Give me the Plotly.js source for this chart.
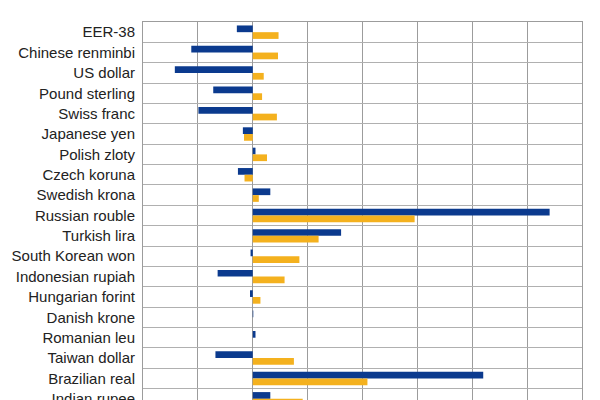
<!DOCTYPE html>
<html>
<head>
<meta charset="utf-8">
<script src="https://cdn.plot.ly/plotly-3.0.1.min.js"></script>
<style>
  html, body { margin: 0; padding: 0; overflow: hidden; background: #fff; }
  #chart { width: 600px; height: 420px; }
</style>
</head>
<body>
<div id="chart"></div>
<script>
// currencies, top to bottom
var currencies = ['EER-38', 'Chinese renminbi', 'US dollar', 'Pound sterling', 'Swiss franc',
    'Japanese yen', 'Polish zloty', 'Czech koruna', 'Swedish krona', 'Russian rouble',
    'Turkish lira', 'South Korean won', 'Indonesian rupiah', 'Hungarian forint',
    'Danish krone', 'Romanian leu', 'Taiwan dollar', 'Brazilian real', 'Indian rupee'];

// blue series (upper bar in each row)
var blueValues = [-0.29, -1.12, -1.42, -0.72, -0.99, -0.18, 0.05, -0.27, 0.32, 5.41,
    1.61, -0.04, -0.64, -0.05, 0.01, 0.05, -0.68, 4.20, 0.32];

// yellow series (lower bar in each row)
var yellowValues = [0.47, 0.46, 0.20, 0.17, 0.44, -0.16, 0.26, -0.15, 0.11, 2.95,
    1.20, 0.85, 0.58, 0.14, 0.0, 0.0, 0.75, 2.09, 0.91];

var data = [];

data.push({
    type: 'bar',
    orientation: 'h',
    y: currencies,
    x: blueValues,
    name: 'blue',
    marker: { color: '#0b3a8e' },
    hoverinfo: 'x+y'
});

data.push({
    type: 'bar',
    orientation: 'h',
    y: currencies,
    x: yellowValues,
    name: 'yellow',
    marker: { color: '#f4b11e' },
    hoverinfo: 'x+y'
});

var layout = {
    width: 600,
    height: 420,
    margin: { l: 143, r: 18, t: 22, b: 11 },
    paper_bgcolor: '#fff',
    plot_bgcolor: '#fff',
    showlegend: false,
    barmode: 'group',
    bargap: 0.34,
    bargroupgap: 0,
    font: { family: 'Liberation Sans, Arial, sans-serif', size: 15, color: '#222' },
    xaxis: {
        range: [-2, 6],
        dtick: 1,
        showticklabels: false,
        ticks: '',
        showgrid: true,
        gridcolor: '#9c9c9c',
        gridwidth: 1,
        zeroline: true,
        zerolinecolor: '#9c9c9c',
        zerolinewidth: 1,
        showline: true,
        linecolor: '#9c9c9c',
        mirror: true
    },
    yaxis: {
        type: 'category',
        autorange: 'reversed',
        tickson: 'boundaries',
        ticks: '',
        showgrid: true,
        gridcolor: '#b0b0b0',
        gridwidth: 1,
        showline: true,
        linecolor: '#9c9c9c',
        mirror: true,
        ticklabelstandoff: 4
    }
};

Plotly.newPlot('chart', data, layout, { displayModeBar: false, staticPlot: true });
</script>
</body>
</html>
